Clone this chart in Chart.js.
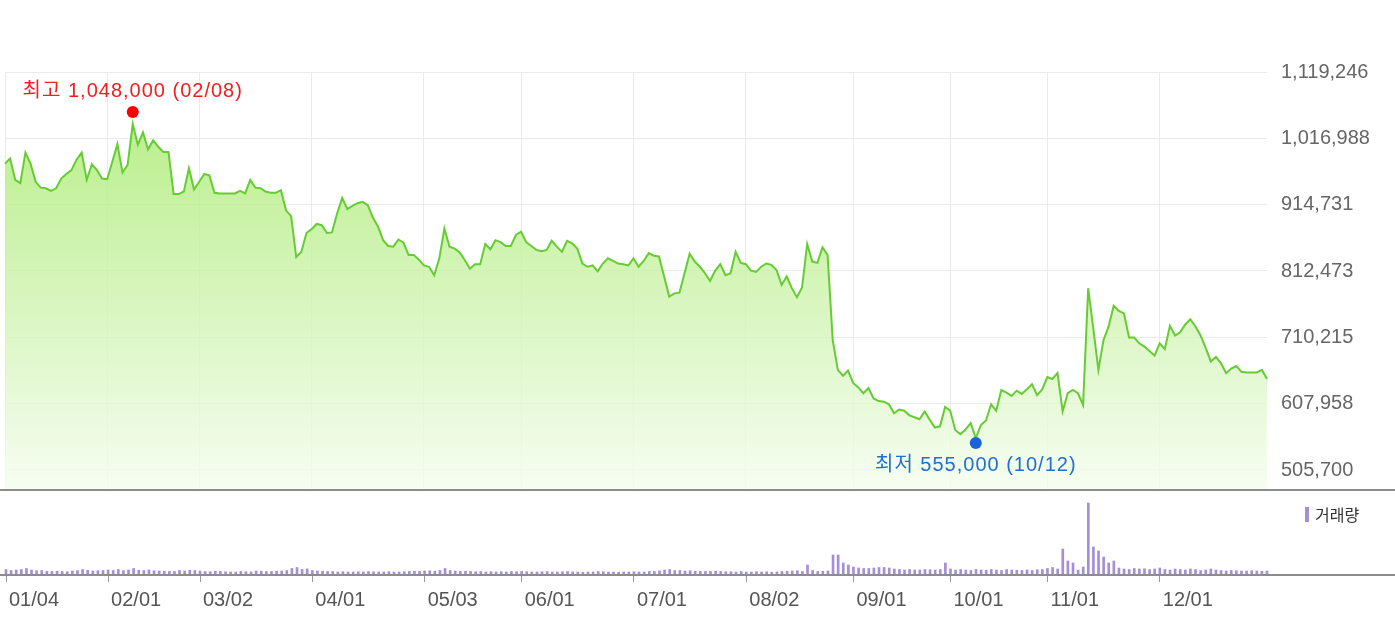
<!DOCTYPE html>
<html lang="ko">
<head>
    <meta charset="UTF-8">
    <title>주가 차트</title>

    <!-- Chart.js -->
    <script src="https://cdn.jsdelivr.net/npm/chart.js"></script>

    <style>
        body {
            margin: 0;
            background: #fff;
        }
        .wrap {
            position: relative;
            width: 1395px;
            height: 621px;
            overflow: hidden;
        }
        canvas {
            position: absolute;
            left: 0;
            display: block;
        }
        #priceChart { top: 0; }
        #volumeChart { top: 490px; }
        .rule {
            position: absolute;
            left: 0;
            width: 1395px;
            height: 2px;
            background: #8c8c8c;
        }
    </style>
</head>
<body>
    <div class="wrap">
        <canvas id="priceChart" width="1395" height="490"></canvas>
        <canvas id="volumeChart" width="1395" height="131"></canvas>
        <div class="rule" style="top:489px"></div>
        <div class="rule" style="top:574px"></div>
    </div>

    <script>
        // 거래일 (월별)
        const tradingDays = [
            ['01', [4, 5, 6, 7, 8, 11, 12, 13, 14, 15, 18, 19, 20, 21, 22, 25, 26, 27, 28, 29]],
            ['02', [1, 2, 3, 4, 5, 8, 9, 10, 15, 16, 17, 18, 19, 22, 23, 24, 25, 26]],
            ['03', [2, 3, 4, 5, 8, 9, 10, 11, 12, 15, 16, 17, 18, 19, 22, 23, 24, 25, 26, 29, 30, 31]],
            ['04', [1, 2, 5, 6, 7, 8, 9, 12, 13, 14, 15, 16, 19, 20, 21, 22, 23, 26, 27, 28, 29, 30]],
            ['05', [3, 4, 6, 7, 10, 11, 12, 13, 14, 17, 18, 20, 21, 24, 25, 26, 27, 28, 31]],
            ['06', [1, 2, 3, 4, 7, 8, 9, 10, 11, 14, 15, 16, 17, 18, 21, 22, 23, 24, 25, 28, 29, 30]],
            ['07', [1, 2, 5, 6, 7, 8, 9, 12, 13, 14, 15, 16, 19, 20, 21, 22, 23, 26, 27, 28, 29, 30]],
            ['08', [2, 3, 4, 5, 6, 9, 10, 11, 12, 13, 17, 18, 19, 20, 23, 24, 25, 26, 27, 30, 31]],
            ['09', [1, 2, 3, 6, 7, 8, 9, 10, 13, 14, 15, 16, 17, 23, 24, 27, 28, 29, 30]],
            ['10', [1, 5, 6, 7, 8, 12, 13, 14, 15, 18, 19, 20, 21, 22, 25, 26, 27, 28, 29]],
            ['11', [1, 2, 3, 4, 5, 8, 9, 10, 11, 12, 15, 16, 17, 18, 19, 22, 23, 24, 25, 26, 29, 30]],
            ['12', [1, 2, 3, 6, 7, 8, 9, 10, 13, 14, 15, 16, 17, 20, 21, 22, 23, 24, 27, 28, 29, 30]]
        ];

        // 종가
        const prices = [
            978000, 986000, 953000, 948000, 995000, 978000, 950000, 941000, 940000, 936000,
            940000, 955000, 962000, 968000, 984000, 995000, 953000, 977000, 968000, 955000,
            954000, 981000, 1008000, 964000, 976000, 1039000, 1007000, 1026000, 1000000, 1014000,
            1004000, 996000, 996000, 931000, 931000, 935000, 971000, 938000,
            950000, 962000, 960000, 933000, 932000, 932000, 932000, 932000, 936000, 932000,
            953000, 941000, 940000, 935000, 933000, 933000, 937000, 906000, 897000, 834000,
            842000, 871000,
            877000, 885000, 883000, 871000, 872000, 901000, 925000, 908000, 913000, 917000,
            919000, 914000, 895000, 881000, 860000, 851000, 850000, 861000, 856000, 837000,
            837000, 830000,
            821000, 819000, 806000, 832000, 878000, 850000, 847000, 841000, 829000, 816000,
            823000, 823000, 854000, 846000, 860000, 857000, 851000, 851000, 868000,
            873000, 857000, 851000, 845000, 843000, 845000, 859000, 850000, 842000, 859000,
            855000, 847000, 824000, 819000, 821000, 812000, 824000, 832000, 828000, 824000,
            823000, 821000,
            832000, 819000, 828000, 840000, 836000, 835000, 804000, 773000, 778000, 779000,
            809000, 839000, 827000, 819000, 809000, 797000, 813000, 823000, 806000, 809000,
            842000, 825000,
            823000, 813000, 811000, 819000, 824000, 822000, 814000, 791000, 804000, 786000,
            772000, 787000, 854000, 827000, 825000, 849000, 837000, 706000, 660000, 651000,
            659000,
            640000, 633000, 624000, 632000, 616000, 612000, 611000, 607000, 593000, 599000,
            597000, 590000, 587000, 584000, 596000, 583000, 571000, 573000, 603000,
            597000, 567000, 561000, 568000, 578000, 555000, 575000, 582000, 607000, 597000,
            629000, 625000, 620000, 628000, 623000, 630000, 638000, 621000, 630000,
            649000, 646000, 655000, 596000, 624000, 629000, 624000, 606000, 786000, 724000,
            660000, 706000, 727000, 759000, 751000, 747000, 710000, 710000, 701000, 696000,
            689000, 682000,
            701000, 692000, 728000, 713000, 718000, 730000, 738000, 727000, 713000, 694000,
            673000, 680000, 670000, 655000, 662000, 666000, 657000, 656000, 656000, 656000,
            660000, 646000
        ];

        // 거래량 (천주)
        const volumes = [
            110, 90, 100, 110, 130, 100, 85, 90, 75, 70, 75, 70, 65, 80, 90, 110, 95, 80, 85, 90,
            100, 90, 110, 85, 100, 130, 95, 90, 100, 85, 80, 75, 70, 70, 90, 80, 95, 90,
            80, 70, 65, 75, 70, 65, 60, 60, 70, 65, 60, 80, 75, 70, 70, 75, 80, 90, 130, 150, 110, 120,
            90, 80, 75, 70, 70, 60, 65, 60, 60, 65, 60, 70, 65, 60, 60, 65, 60, 60, 65, 70, 75, 70,
            80, 85, 75, 90, 130, 90, 80, 70, 75, 70, 65, 70, 60, 65, 60, 65, 60, 70, 65,
            70, 65, 60, 60, 65, 70, 60, 60, 65, 70, 60, 60, 55, 60, 60, 70, 65, 60, 60, 55, 60, 60,
            65, 60, 60, 70, 70, 80, 100, 110, 90, 90, 80, 85, 75, 70, 70, 70, 75, 70, 65, 65, 60, 70,
            60, 60, 65, 60, 65, 55, 60, 70, 75, 80, 85, 70, 200, 90, 70, 75, 80, 400, 400, 240, 200,
            160, 140, 130, 130, 140, 150, 150, 140, 120, 110, 100, 110, 100, 100, 110, 105, 100, 110, 240,
            120, 100, 110, 100, 90, 110, 100, 95, 110, 100, 90, 110, 100, 95, 90, 100, 90, 105, 110,
            130, 150, 120, 520, 280, 240, 100, 160, 1440, 560, 480, 360, 240, 280, 140, 120, 110, 130, 120, 125, 110, 120,
            140, 110, 100, 120, 110, 100, 120, 110, 90, 100, 120, 100, 90, 80, 90, 85, 80, 80, 85, 80, 75, 80
        ];

        // 가격축 눈금
        const priceTicks = [505700, 607958, 710215, 812473, 914731, 1016988, 1119246];
        const priceMin = 476400;
        const priceMax = 1119246;
        const volumeMax = 1600;

        // 최고 / 최저 표시
        const highMark = { label: '최고', value: 1048000, date: '02/08' };
        const lowMark = { label: '최저', value: 555000, date: '10/12' };

        const labels = [];
        const monthStarts = [];
        for (const [month, days] of tradingDays) {
            monthStarts.push(labels.length);
            for (const d of days) {
                labels.push(month + '/' + String(d).padStart(2, '0'));
            }
        }

        const fmt = v => Number(v).toLocaleString('en-US');
        const monthTicks = scale => { scale.ticks = monthStarts.map(i => ({ value: i })); };
        const axisFont = { family: "'Liberation Sans', Arial, sans-serif", size: 20 };

        // 최고/최저 마커
        const markerPlugin = {
            id: 'markers',
            afterDatasetsDraw(chart) {
                const { ctx, scales } = chart;
                const draw = (mark, color, dotColor, dotDy, textDy) => {
                    const i = labels.indexOf(mark.date);
                    const x = scales.x.getPixelForValue(i);
                    const y = scales.y.getPixelForValue(prices[i]);
                    ctx.save();
                    ctx.fillStyle = dotColor;
                    ctx.beginPath();
                    ctx.arc(x, y + dotDy, 6, 0, Math.PI * 2);
                    ctx.fill();
                    ctx.font = "20px 'Liberation Sans', 'Noto Sans CJK KR', sans-serif";
                    if ('letterSpacing' in ctx) ctx.letterSpacing = '1px';
                    ctx.fillStyle = color;
                    ctx.textAlign = 'center';
                    ctx.textBaseline = 'middle';
                    ctx.fillText(mark.label + ' ' + fmt(mark.value) + ' (' + mark.date + ')', x, y + textDy);
                    ctx.restore();
                };
                draw(highMark, '#f01e1e', '#ff0000', -12, -33);
                draw(lowMark, '#1f6fd6', '#1a62d8', 5, 27);
            }
        };

        // 거래량 범례
        const volumeLegend = {
            id: 'volumeLegend',
            afterDraw(chart) {
                const { ctx, chartArea } = chart;
                ctx.save();
                ctx.fillStyle = '#a48fd5';
                ctx.fillRect(chartArea.right + 38, chartArea.top + 12, 4, 15);
                ctx.font = "16px 'Noto Sans CJK KR', sans-serif";
                ctx.fillStyle = '#333';
                ctx.textBaseline = 'middle';
                ctx.fillText('거래량', chartArea.right + 48, chartArea.top + 20);
                ctx.restore();
            }
        };

        const priceCtx = document.getElementById('priceChart').getContext('2d');
        new Chart(priceCtx, {
            type: 'line',
            data: {
                labels: labels,
                datasets: [{
                    data: prices,
                    borderColor: '#66cc33',
                    borderWidth: 2,
                    pointRadius: 0,
                    tension: 0,
                    fill: 'start',
                    backgroundColor: (context) => {
                        const area = context.chart.chartArea;
                        if (!area) return 'rgba(174,236,118,0.8)';
                        const g = context.chart.ctx.createLinearGradient(0, area.top + 40, 0, area.bottom);
                        g.addColorStop(0, 'rgba(168,234,110,0.8)');
                        g.addColorStop(1, 'rgba(244,253,238,0.8)');
                        return g;
                    }
                }]
            },
            options: {
                responsive: false,
                animation: false,
                layout: { padding: { left: 5, top: 72, bottom: 1, right: 0 } },
                plugins: { legend: { display: false }, tooltip: { enabled: false } },
                scales: {
                    x: {
                        type: 'category',
                        afterBuildTicks: monthTicks,
                        afterFit: s => { s.height = 0; s.paddingLeft = 0; s.paddingRight = 0; },
                        ticks: { display: false, autoSkip: false },
                        grid: { color: '#ebebeb', drawTicks: false },
                        border: { display: false }
                    },
                    y: {
                        position: 'right',
                        min: priceMin,
                        max: priceMax,
                        afterBuildTicks: s => { s.ticks = priceTicks.map(v => ({ value: v })); },
                        afterFit: s => { s.width = 128; s.paddingTop = 0; s.paddingBottom = 0; },
                        ticks: {
                            callback: v => fmt(v),
                            color: '#666',
                            font: axisFont,
                            padding: 14
                        },
                        grid: { color: '#ebebeb', drawTicks: false },
                        border: { display: false }
                    }
                }
            },
            plugins: [markerPlugin]
        });

        const volumeCtx = document.getElementById('volumeChart').getContext('2d');
        new Chart(volumeCtx, {
            type: 'bar',
            data: {
                labels: labels,
                datasets: [{
                    data: volumes,
                    backgroundColor: '#a48fd5',
                    barThickness: 2,
                    clip: false
                }]
            },
            options: {
                responsive: false,
                animation: false,
                layout: { padding: { left: 5, top: 5, bottom: 0, right: 128 } },
                plugins: { legend: { display: false }, tooltip: { enabled: false } },
                scales: {
                    x: {
                        type: 'category',
                        offset: false,
                        afterBuildTicks: monthTicks,
                        afterFit: s => { s.height = 46; },
                        ticks: {
                            autoSkip: false,
                            maxRotation: 0,
                            align: 'start',
                            labelOffset: 3,
                            padding: 6,
                            color: '#555',
                            font: axisFont
                        },
                        grid: { offset: false, drawOnChartArea: false, drawTicks: true, tickLength: 7, color: '#999' },
                        border: { display: false }
                    },
                    y: {
                        display: false,
                        min: 0,
                        max: volumeMax
                    }
                }
            },
            plugins: [volumeLegend]
        });
    </script>
</body>
</html>
